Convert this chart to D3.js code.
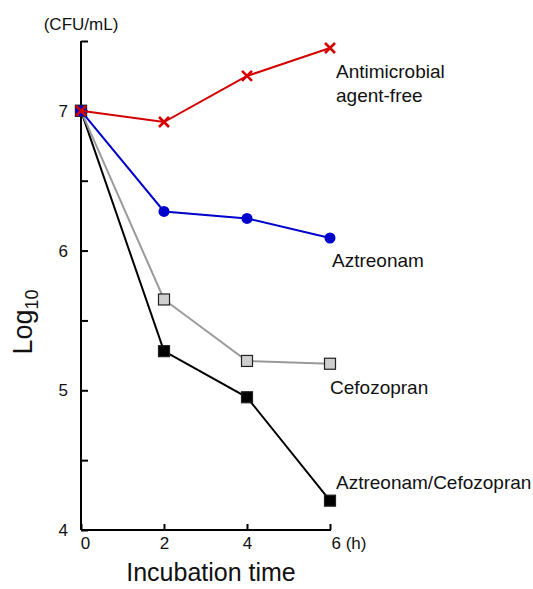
<!DOCTYPE html>
<html lang="en">
<head>
<meta charset="utf-8">
<title>Log10 CFU/mL vs incubation time</title>
<script src="https://cdn.jsdelivr.net/npm/d3@7"></script>
<style>
  body { margin: 0; background: #fff; }
  svg text { font-family: "Liberation Sans", Arial, sans-serif; fill: #111; }
  .axis path, .axis line { stroke: #000; stroke-width: 2px; }
  .axis text { font-size: 17px; }
</style>
</head>
<body>
<div id="chart"></div>
<script>
// values (log10 CFU/mL)
var hours = [0, 2, 4, 6];
var agentFree = [7.0, 6.92, 7.25, 7.45];
var aztreonam = [7.0, 6.28, 6.23, 6.09];
var cefozopran = [7.0, 5.65, 5.21, 5.19];
var combination = [7.0, 5.28, 4.95, 4.21];
var yTicks = [4, 4.5, 5, 5.5, 6, 6.5, 7, 7.5];

var width = 533, height = 589;

var svg = d3.select("#chart").append("svg")
  .attr("width", width)
  .attr("height", height);

var x = d3.scaleLinear().domain([0, 6]).range([81, 330]);
var y = d3.scaleLinear().domain([4, 7.5]).range([530, 41]);

// axes, ticks pointing inward
var yAxis = d3.axisLeft(y)
  .tickValues(yTicks)
  .tickSizeInner(-7)
  .tickSizeOuter(0)
  .tickPadding(13)
  .tickFormat(function (d) { return d % 1 === 0 ? d : ""; });

svg.append("g")
  .attr("class", "axis")
  .attr("transform", "translate(" + x(0) + ",0)")
  .call(yAxis)
  .select(".domain").attr("d", "M0," + y(7.5) + "V" + y(4));

var xAxis = d3.axisBottom(x)
  .tickValues(hours)
  .tickSizeInner(-6)
  .tickSizeOuter(0)
  .tickPadding(7)
  .tickFormat(function (d) { return d === 6 ? "6 (h)" : d; });

var gx = svg.append("g")
  .attr("class", "axis")
  .attr("transform", "translate(0," + y(4) + ")")
  .call(xAxis);
gx.select(".domain").attr("d", "M" + x(0) + ",0H" + (x(6) + 1));
gx.selectAll(".tick text")
  .attr("text-anchor", function (d) { return d === 6 ? "start" : "middle"; })
  .attr("dx", function (d) { return d === 0 ? 4 : (d === 6 ? 1 : 0); });

// series
var series = [
  { name: "agentFree", values: agentFree, color: "#d40000", marker: "x" },
  { name: "aztreonam", values: aztreonam, color: "#0000cc", marker: "circle" },
  { name: "cefozopran", values: cefozopran, color: "#9a9a9a", marker: "square", fill: "#cfcfcf" },
  { name: "combination", values: combination, color: "#000", marker: "square", fill: "#000" }
];

var line = d3.line()
  .x(function (d, i) { return x(hours[i]); })
  .y(function (d) { return y(d); });

// draw back to front so red stays on top at t=0
series.slice().reverse().forEach(function (s) {
  var g = svg.append("g");
  g.append("path")
    .attr("d", line(s.values))
    .attr("fill", "none")
    .attr("stroke", s.color)
    .attr("stroke-width", 2);

  var pts = g.selectAll(".pt")
    .data(s.values)
    .enter().append("g")
    .attr("transform", function (d, i) { return "translate(" + x(hours[i]) + "," + y(d) + ")"; });

  if (s.marker === "circle") {
    pts.append("circle").attr("r", 5.5).attr("fill", s.color);
  } else if (s.marker === "square") {
    pts.append("rect")
      .attr("x", -5.5).attr("y", -5.5)
      .attr("width", 11).attr("height", 11)
      .attr("fill", s.fill)
      .attr("stroke", "#222")
      .attr("stroke-width", 1.2);
  } else {
    pts.append("path")
      .attr("d", "M-5,-5L5,5M-5,5L5,-5")
      .attr("stroke", s.color)
      .attr("stroke-width", 2.6)
      .attr("fill", "none");
  }
});

// series labels
var labelSize = "19px";
svg.append("text").attr("x", 336).attr("y", 78).style("font-size", labelSize).text("Antimicrobial");
svg.append("text").attr("x", 336).attr("y", 102).style("font-size", labelSize).text("agent-free");
svg.append("text").attr("x", 332).attr("y", 267).style("font-size", labelSize).text("Aztreonam");
svg.append("text").attr("x", 330).attr("y", 394).style("font-size", labelSize).text("Cefozopran");
svg.append("text").attr("x", 336).attr("y", 489).style("font-size", labelSize).text("Aztreonam/Cefozopran");

// axis titles
svg.append("text")
  .attr("x", 81).attr("y", 30)
  .attr("text-anchor", "middle")
  .style("font-size", "17px")
  .text("(CFU/mL)");

var yl = svg.append("text")
  .attr("transform", "translate(32,322) rotate(-90)")
  .attr("text-anchor", "middle")
  .style("font-size", "27px");
yl.append("tspan").text("Log");
yl.append("tspan").attr("dy", 6).style("font-size", "18px").text("10");

svg.append("text")
  .attr("x", 211).attr("y", 581)
  .attr("text-anchor", "middle")
  .style("font-size", "25px")
  .text("Incubation time");
</script>
</body>
</html>
